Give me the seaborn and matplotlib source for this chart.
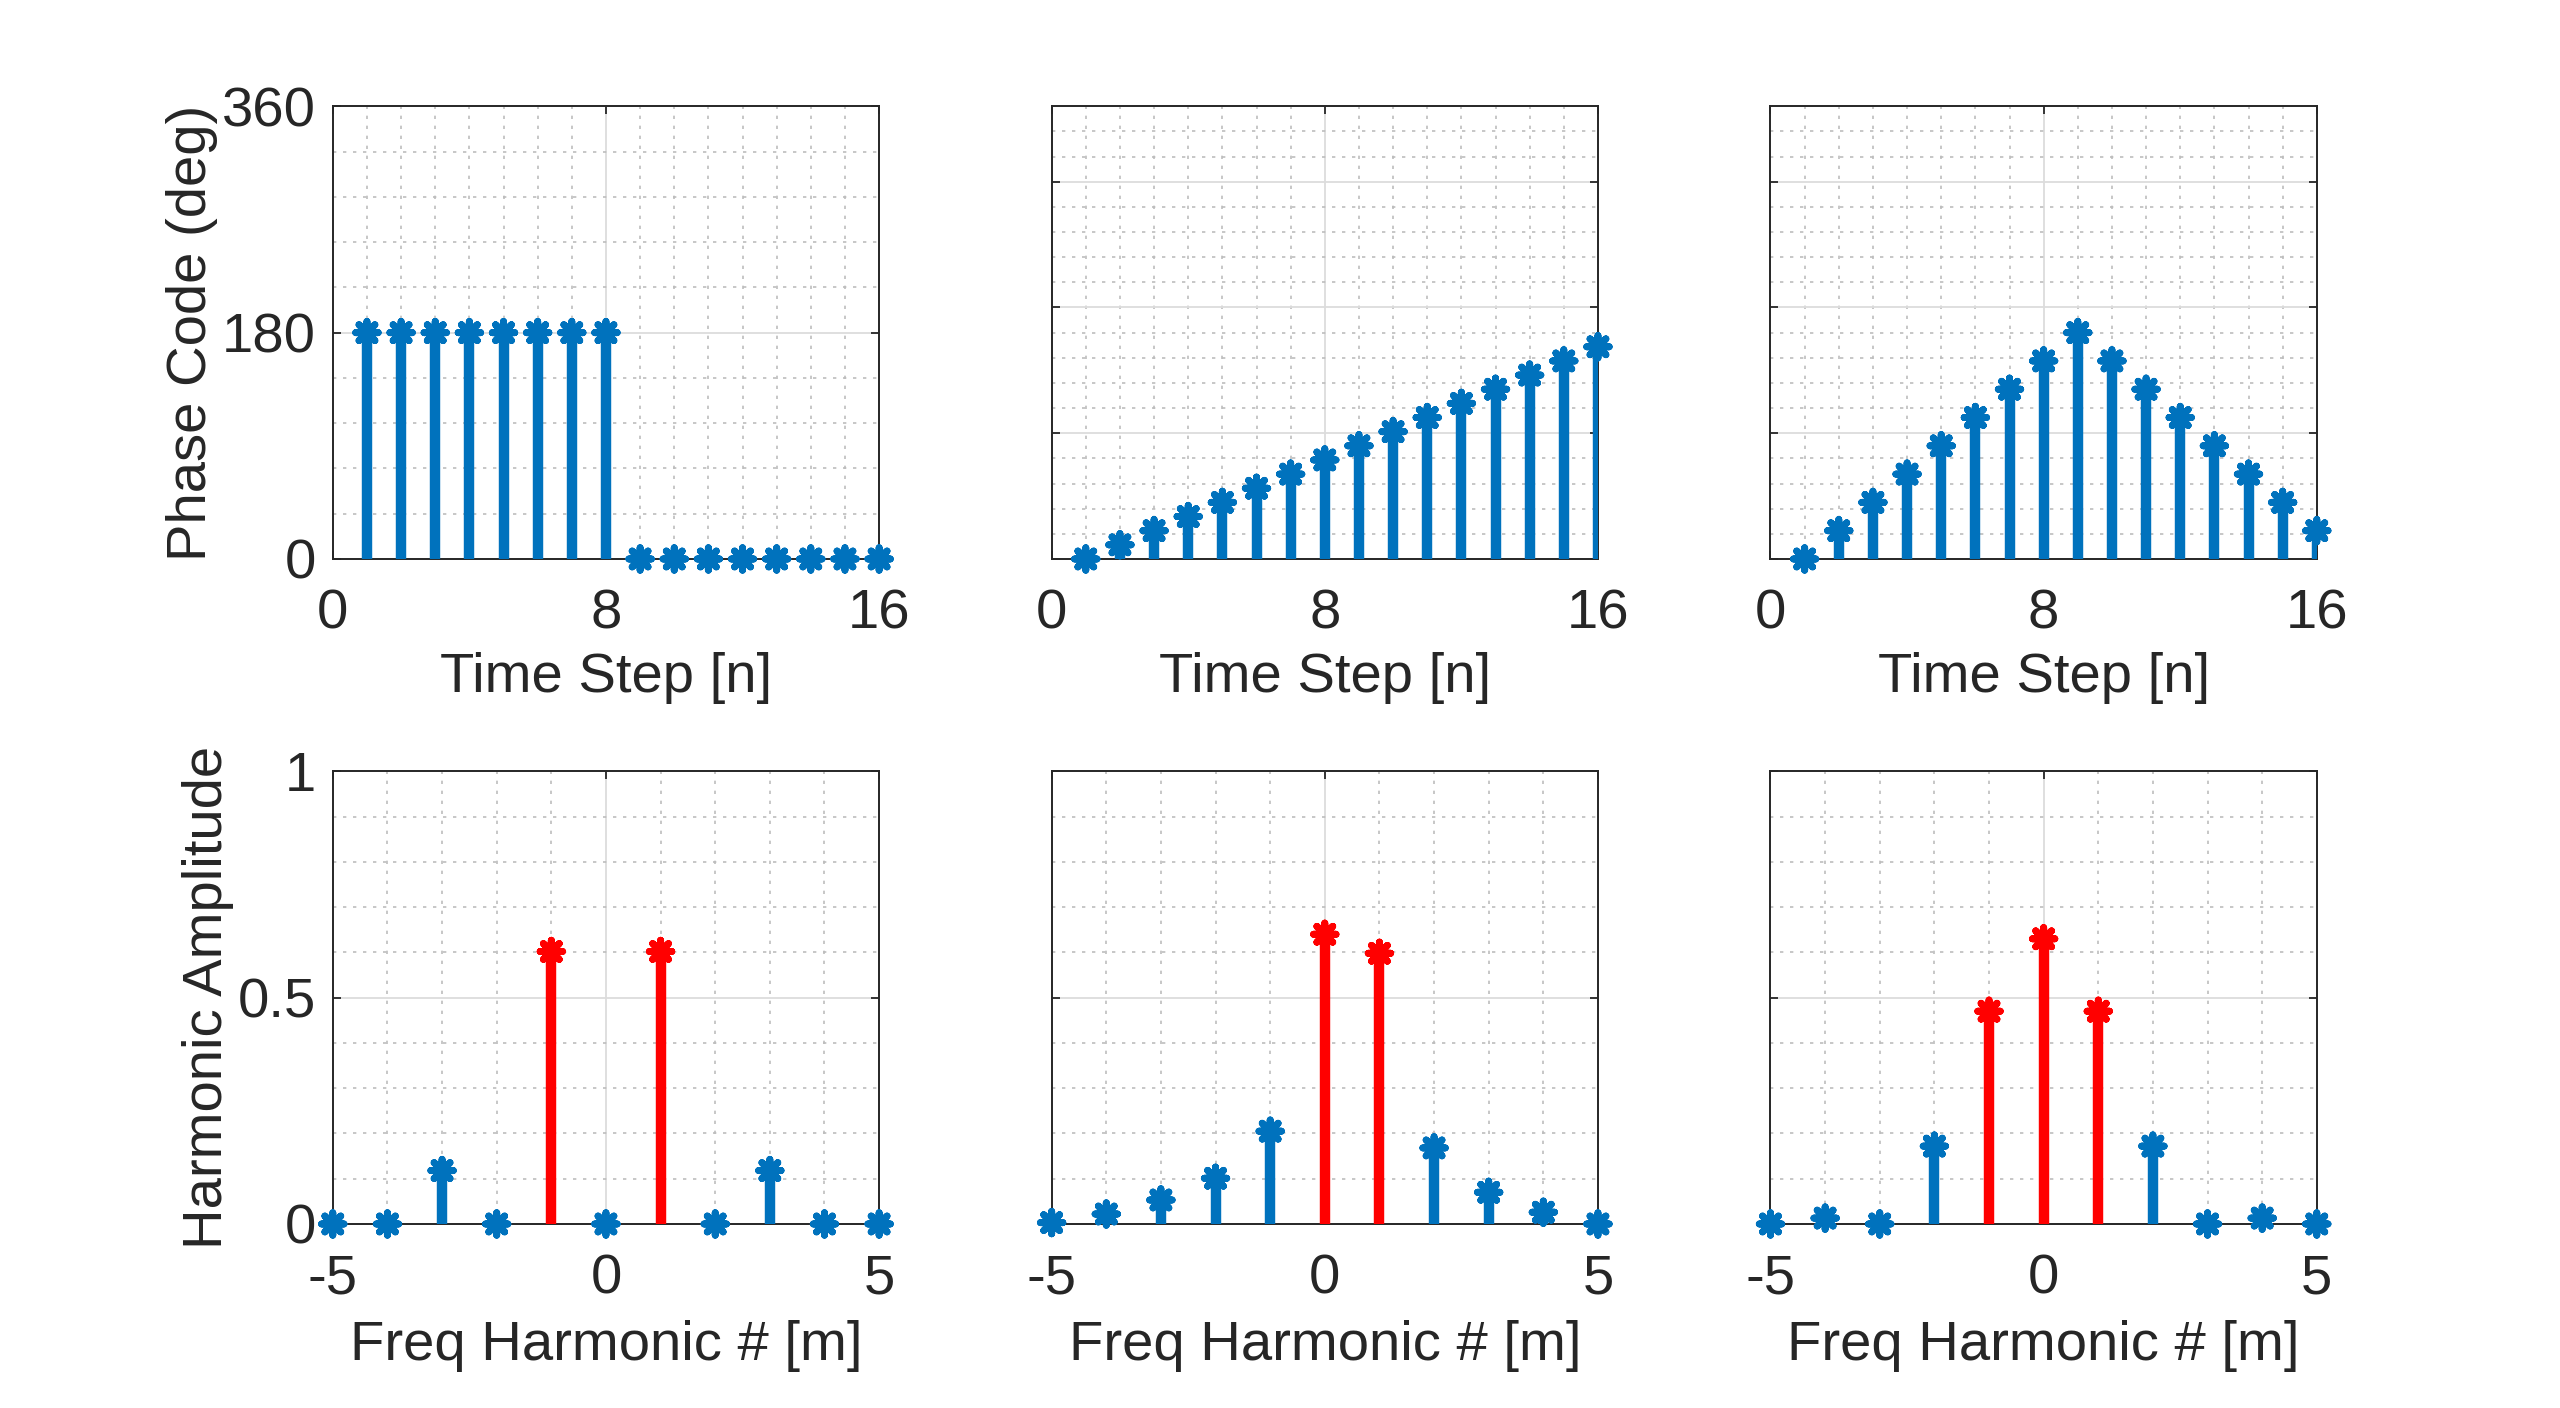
import numpy as np
import pandas as pd
import matplotlib
matplotlib.use("Agg")
import matplotlib.pyplot as plt
from matplotlib.ticker import MultipleLocator, FixedLocator, FuncFormatter, NullFormatter
import seaborn as sns

# ---------------- data ----------------
time_steps = list(range(1, 17))
phase_binary = [180, 180, 180, 180, 180, 180, 180, 180, 0, 0, 0, 0, 0, 0, 0, 0]
phase_ramp = [0, 11.25, 22.5, 33.75, 45, 56.25, 67.5, 78.75, 90, 101.25,
              112.5, 123.75, 135, 146.25, 157.5, 168.75]
phase_triangle = [0, 22.5, 45, 67.5, 90, 112.5, 135, 157.5, 180, 157.5,
                  135, 112.5, 90, 67.5, 45, 22.5]

harmonics = [-5, -4, -3, -2, -1, 0, 1, 2, 3, 4, 5]
amp_binary = [0.0, 0.0, 0.118, 0.0, 0.602, 0.0, 0.602, 0.0, 0.118, 0.0, 0.0]
amp_ramp = [0.003, 0.022, 0.053, 0.101, 0.205, 0.640, 0.598, 0.168, 0.070, 0.026, 0.0]
amp_triangle = [0.0, 0.013, 0.0, 0.172, 0.470, 0.630, 0.470, 0.172, 0.0, 0.013, 0.0]
highlight_binary = [-1, 1]
highlight_ramp = [0, 1]
highlight_triangle = [-1, 0, 1]

time_label = "Time Step [n]"
freq_label = "Freq Harmonic # [m]"
phase_ylabel = "Phase Code (deg)"
amp_ylabel = "Harmonic Amplitude"

BLUE = "#0072BD"
RED = "#FF0000"
TXT = "#262626"

sns.set_theme(style="white")
plt.rcParams["font.family"] = ["Liberation Sans", "DejaVu Sans"]
plt.rcParams["axes.unicode_minus"] = False

fig = plt.figure(figsize=(25.6, 14.08), dpi=100)

lefts = [0.13, 0.4108, 0.6916]
width = 0.2134
row_bottoms = [0.603, 0.1307]
height = 0.3215

FS = 40.5
marker = (8, 2, 0)


def fmt(v, pos):
    return "%g" % v


def style_axes(ax, xlim, xticks, xminor, ylim, yticks, yminor, show_ylabels):
    ax.set_xlim(*xlim)
    ax.set_ylim(*ylim)
    ax.xaxis.set_major_locator(FixedLocator(xticks))
    ax.yaxis.set_major_locator(FixedLocator(yticks))
    ax.xaxis.set_minor_locator(MultipleLocator(xminor))
    ax.yaxis.set_minor_locator(MultipleLocator(yminor))
    ax.xaxis.set_major_formatter(FuncFormatter(fmt))
    if show_ylabels:
        ax.yaxis.set_major_formatter(FuncFormatter(fmt))
    else:
        ax.yaxis.set_major_formatter(NullFormatter())
    ax.grid(True, which="major", color="#dcdcdc", linewidth=1.3, linestyle="-")
    ax.grid(True, which="minor", color="#bdbdbd", linewidth=1.2, linestyle=(0, (2, 4)))
    ax.set_axisbelow(True)
    ax.tick_params(which="major", direction="in", length=6, width=1.3, color=TXT,
                   top=True, right=True, bottom=True, left=True,
                   labelsize=FS, labelcolor=TXT)
    ax.tick_params(axis="x", which="major", pad=21)
    ax.tick_params(axis="y", which="major", pad=12)
    ax.tick_params(which="minor", length=0)
    for s in ax.spines.values():
        s.set_visible(True)
        s.set_color(TXT)
        s.set_linewidth(1.4)


def draw_stems(ax, x, y, hl=None):
    df = pd.DataFrame({"x": x, "y": y})
    if hl is None:
        df["hl"] = False
    else:
        df["hl"] = df["x"].isin(hl)
    colors = df["hl"].map({False: BLUE, True: RED})
    ax.vlines(df["x"], 0, df["y"], colors=colors, linewidth=7.5, zorder=3)
    sns.scatterplot(data=df, x="x", y="y", hue="hl",
                    palette={False: BLUE, True: RED}, marker=marker,
                    s=260, linewidth=5, legend=False, ax=ax, zorder=4,
                    clip_on=False)
    ax.set_xlabel("")
    ax.set_ylabel("")


top_data = [phase_binary, phase_ramp, phase_triangle]
bot_data = [amp_binary, amp_ramp, amp_triangle]
bot_hl = [highlight_binary, highlight_ramp, highlight_triangle]

for i in range(3):
    ax = fig.add_axes([lefts[i], row_bottoms[0], width, height])
    draw_stems(ax, time_steps, top_data[i])
    if i == 0:
        style_axes(ax, (0, 16), [0, 8, 16], 1, (0, 360), [0, 180, 360], 36, True)
        ax.set_ylabel(phase_ylabel, fontsize=FS, color=TXT)
        ax.yaxis.set_label_coords(-0.21, 0.5)
    else:
        style_axes(ax, (0, 16), [0, 8, 16], 1, (0, 360), [0, 100, 200, 300], 20, False)
    ax.set_xlabel(time_label, fontsize=FS, color=TXT)
    ax.xaxis.set_label_coords(0.5, -0.205)

for i in range(3):
    ax = fig.add_axes([lefts[i], row_bottoms[1], width, height])
    draw_stems(ax, harmonics, bot_data[i], bot_hl[i])
    style_axes(ax, (-5, 5), [-5, 0, 5], 1, (0, 1), [0, 0.5, 1], 0.1, i == 0)
    if i == 0:
        ax.set_ylabel(amp_ylabel, fontsize=FS, color=TXT)
        ax.yaxis.set_label_coords(-0.18, 0.5)
    ax.set_xlabel(freq_label, fontsize=FS, color=TXT)
    ax.xaxis.set_label_coords(0.5, -0.212)

fig.savefig("out.png", dpi=100, facecolor="white")
